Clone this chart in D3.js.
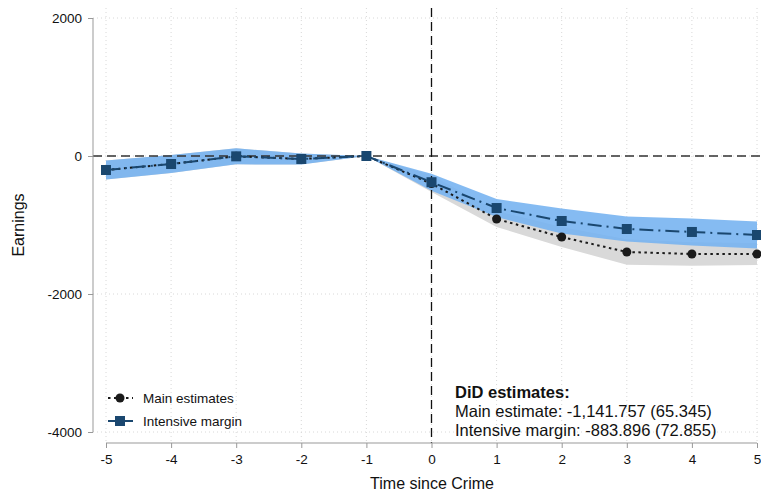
<!DOCTYPE html>
<html><head><meta charset="utf-8">
<script src="https://cdn.jsdelivr.net/npm/d3@7"></script>
<style>body{margin:0;background:#fff}svg{display:block;font-family:Arial,"Liberation Sans",sans-serif}</style>
</head><body><svg id="c" width="761" height="498"></svg>
<script>
const periods = [-5,-4,-3,-2,-1,0,1,2,3,4,5];
const mainEst = [-203,-116,-5,-43,0,-400,-913,-1174,-1391,-1420,-1420];
const mainCI  = [138,130,116,80,0,120,116,145,185,170,160];
const intEst  = [-203,-116,-5,-43,0,-380,-754,-942,-1058,-1101,-1145];
const intCI   = [138,130,116,80,0,123,130,181,181,196,196];
const yTicks = [2000,0,-2000,-4000];
const legendLabels = ["Main estimates","Intensive margin"];
const annoLines = ["DiD estimates:","Main estimate: -1,141.757 (65.345)","Intensive margin: -883.896 (72.855)"];

const svg = d3.select("#c");
const x = d3.scaleLinear().domain([-5,5]).range([106,757]);
const y = d3.scaleLinear().domain([-4000,2000]).range([432,18]);
const navy = "#1a476f";

// grid
svg.append("g").selectAll("line").data(periods).join("line")
  .attr("x1",d=>x(d)).attr("x2",d=>x(d)).attr("y1",8).attr("y2",443)
  .attr("stroke","#d8d8d8").attr("stroke-width",1).attr("stroke-dasharray","1,3");
svg.append("g").selectAll("line").data(yTicks).join("line")
  .attr("x1",93).attr("x2",761).attr("y1",d=>y(d)).attr("y2",d=>y(d))
  .attr("stroke","#d8d8d8").attr("stroke-width",1).attr("stroke-dasharray","1,3");

const rows = periods.map((p,i)=>({p,m:mainEst[i],mc:mainCI[i],n:intEst[i],nc:intCI[i]}));

// bands
const areaM = d3.area().x(d=>x(d.p)).y0(d=>y(d.m-d.mc)).y1(d=>y(d.m+d.mc));
const areaN = d3.area().x(d=>x(d.p)).y0(d=>y(d.n-d.nc)).y1(d=>y(d.n+d.nc));
svg.append("path").datum(rows).attr("d",areaM).attr("fill","#d9d9d9");
svg.append("path").datum(rows).attr("d",areaN).attr("fill","#74b2f0").attr("fill-opacity",0.88);

// reference lines
svg.append("line").attr("x1",93).attr("x2",761).attr("y1",y(0)).attr("y2",y(0))
  .attr("stroke","#333").attr("stroke-width",1.5).attr("stroke-dasharray","9,5");
svg.append("line").attr("x1",x(0)).attr("x2",x(0)).attr("y1",8).attr("y2",443)
  .attr("stroke","#111").attr("stroke-width",1.3).attr("stroke-dasharray","9,5");

// main series
svg.append("path").datum(rows).attr("fill","none").attr("stroke","#1a1a1a").attr("stroke-width",2)
  .attr("stroke-dasharray","2.5,3.5").attr("d",d3.line().x(d=>x(d.p)).y(d=>y(d.m)));
svg.append("g").selectAll("circle").data(rows).join("circle")
  .attr("cx",d=>x(d.p)).attr("cy",d=>y(d.m)).attr("r",4.5).attr("fill","#1a1a1a");

// intensive series
svg.append("path").datum(rows).attr("fill","none").attr("stroke",navy).attr("stroke-width",2)
  .attr("stroke-dasharray","14,5,2,5").attr("d",d3.line().x(d=>x(d.p)).y(d=>y(d.n)));
svg.append("g").selectAll("rect").data(rows).join("rect")
  .attr("x",d=>x(d.p)-5).attr("y",d=>y(d.n)-5).attr("width",10).attr("height",10).attr("fill",navy);

// axes
const fmt = d => String(d);
const yAxis = d3.axisLeft(y).tickValues(yTicks).tickSize(5).tickPadding(6).tickFormat(fmt);
const gy = svg.append("g").attr("transform","translate(93,0)").call(yAxis);
const xAxis = d3.axisBottom(x).tickValues(periods).tickSize(5).tickPadding(6).tickFormat(fmt);
const gx = svg.append("g").attr("transform","translate(0,443)").call(xAxis);
[gy,gx].forEach(g=>{
  g.select(".domain").attr("stroke","#999");
  g.selectAll(".tick line").attr("stroke","#999");
  g.selectAll("text").attr("font-size",13.5).attr("fill","#111").attr("font-family","Arial,'Liberation Sans',sans-serif");
});
gx.select(".domain").attr("d","M106,0H757");
gy.select(".domain").attr("d","M0,18V432");

svg.append("text").attr("x",432).attr("y",489).attr("text-anchor","middle")
  .attr("font-size",16).attr("fill","#111").text("Time since Crime");
svg.append("text").attr("transform","translate(24,225) rotate(-90)").attr("text-anchor","middle")
  .attr("font-size",16).attr("fill","#111").text("Earnings");

// legend
const lg = svg.append("g");
lg.append("line").attr("x1",108).attr("x2",133).attr("y1",398).attr("y2",398)
  .attr("stroke","#1a1a1a").attr("stroke-width",2).attr("stroke-dasharray","2.5,3.5");
lg.append("circle").attr("cx",120).attr("cy",398).attr("r",4.5).attr("fill","#1a1a1a");
lg.append("line").attr("x1",108).attr("x2",133).attr("y1",421).attr("y2",421)
  .attr("stroke",navy).attr("stroke-width",2);
lg.append("rect").attr("x",115).attr("y",416).attr("width",10).attr("height",10).attr("fill",navy);
lg.selectAll("text").data(legendLabels).join("text")
  .attr("x",143).attr("y",(d,i)=>403+i*23).attr("font-size",13.5).attr("fill","#111").text(d=>d);

// annotation
svg.append("g").selectAll("text").data(annoLines).join("text")
  .attr("x",455).attr("y",(d,i)=>398+i*19).attr("font-size",16.5).attr("fill","#111")
  .attr("font-weight",(d,i)=>i===0?"bold":"normal").text(d=>d);
</script></body></html>
